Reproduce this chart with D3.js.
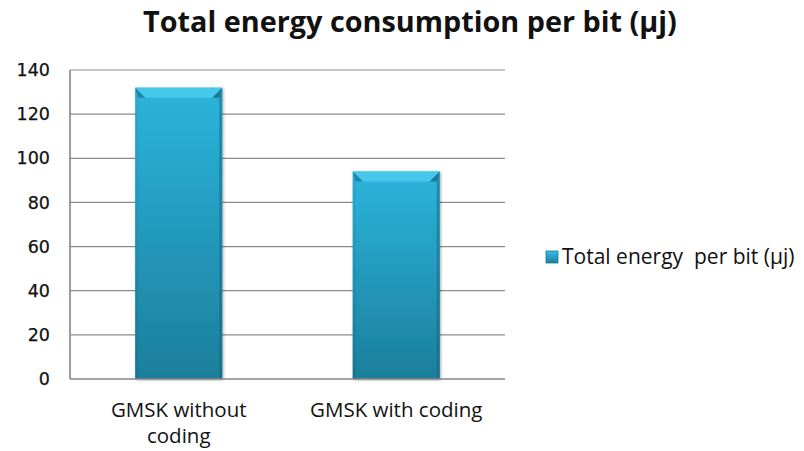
<!DOCTYPE html>
<html>
<head>
<meta charset="utf-8">
<script src="https://cdn.jsdelivr.net/npm/d3@7"></script>
<style>
  html, body { margin: 0; padding: 0; background: #fff; }
  svg { display: block; }
</style>
</head>
<body>
<svg id="chart" width="804" height="451"></svg>
<script>
// Chart data
const categories = ["GMSK without coding", "GMSK with coding"];
const categoryLines = [["GMSK without", "coding"], ["GMSK with coding"]];
const values = [132, 94];
const yTicks = [0, 20, 40, 60, 80, 100, 120, 140];
const seriesName = "Total energy  per bit (µj)";
const chartTitle = "Total energy consumption per bit (µj)";

const svg = d3.select("#chart");
const margin = { left: 70, right: 299, top: 70, bottom: 72 };
const W = 804, H = 451;

const x = d3.scaleBand()
  .domain(categories)
  .range([margin.left, W - margin.right])
  .paddingInner(0.6)
  .paddingOuter(0.3);

const y = d3.scaleLinear()
  .domain([0, 140])
  .range([H - margin.bottom, margin.top]);

// gradients for the bevelled bars
const defs = svg.append("defs");
const g1 = defs.append("linearGradient").attr("id", "barFill")
  .attr("x1", 0).attr("y1", 0).attr("x2", 0).attr("y2", 1);
g1.append("stop").attr("offset", "0%").attr("stop-color", "#2bb4dc");
g1.append("stop").attr("offset", "100%").attr("stop-color", "#1c7f9c");
const gs = defs.append("linearGradient").attr("id", "sideFill")
  .attr("x1", 0).attr("y1", 0).attr("x2", 0).attr("y2", 1);
gs.append("stop").attr("offset", "0%").attr("stop-color", "#2aa6cb");
gs.append("stop").attr("offset", "100%").attr("stop-color", "#176f8a");
const lg = defs.append("linearGradient").attr("id", "legFill")
  .attr("x1", 0).attr("y1", 0).attr("x2", 0).attr("y2", 1);
lg.append("stop").attr("offset", "0%").attr("stop-color", "#35bde3");
lg.append("stop").attr("offset", "100%").attr("stop-color", "#1c7f9c");
const shadow = defs.append("filter").attr("id", "shadow")
  .attr("x", "-20%").attr("y", "-20%").attr("width", "140%").attr("height", "140%");
shadow.append("feGaussianBlur").attr("in", "SourceAlpha").attr("stdDeviation", 1.5);
shadow.append("feOffset").attr("dx", 1).attr("dy", 1).attr("result", "b");
shadow.append("feComponentTransfer").append("feFuncA").attr("type", "linear").attr("slope", 0.35);
const mg = shadow.append("feMerge");
mg.append("feMergeNode");
mg.append("feMergeNode").attr("in", "SourceGraphic");

// gridlines
svg.append("g")
  .selectAll("line")
  .data(yTicks.filter(d => d > 0))
  .join("line")
  .attr("x1", margin.left).attr("x2", W - margin.right)
  .attr("y1", d => y(d)).attr("y2", d => y(d))
  .attr("stroke", "#8c8c8c").attr("stroke-width", 1.2);

// bars
const bev = 10;
const bars = svg.append("g").selectAll("g").data(values).join("g")
  .attr("filter", "url(#shadow)");
bars.each(function(v, i) {
  const g = d3.select(this);
  const x0 = x(categories[i]), w = x.bandwidth();
  const top = y(v), bot = y(0);
  g.append("rect").attr("x", x0).attr("y", top).attr("width", w).attr("height", bot - top)
    .attr("fill", "url(#barFill)");
  // left and right edges
  g.append("polygon")
    .attr("points", [[x0, top], [x0 + 3, top + bev], [x0 + 3, bot], [x0, bot]].join(" "))
    .attr("fill", "url(#sideFill)").attr("opacity", 0.6);
  g.append("polygon")
    .attr("points", [[x0 + w, top], [x0 + w - 3, top + bev], [x0 + w - 3, bot], [x0 + w, bot]].join(" "))
    .attr("fill", "#135f77").attr("opacity", 0.45);
  // top bevel
  g.append("polygon")
    .attr("points", [[x0, top], [x0 + w, top], [x0 + w - bev, top + bev], [x0 + bev, top + bev]].join(" "))
    .attr("fill", "#45c8ea");
  g.append("polygon")
    .attr("points", [[x0, top], [x0 + bev, top + bev], [x0 + 3, top + bev]].join(" "))
    .attr("fill", "#1b86a6");
  g.append("polygon")
    .attr("points", [[x0 + w, top], [x0 + w - bev, top + bev], [x0 + w - 3, top + bev]].join(" "))
    .attr("fill", "#1a7894");
});

// axes lines
svg.append("line")
  .attr("x1", margin.left).attr("x2", margin.left)
  .attr("y1", y(140)).attr("y2", y(0))
  .attr("stroke", "#868686").attr("stroke-width", 1.6);
svg.append("line")
  .attr("x1", margin.left).attr("x2", W - margin.right)
  .attr("y1", y(0)).attr("y2", y(0))
  .attr("stroke", "#868686").attr("stroke-width", 1.6);

// y tick labels
svg.append("g").selectAll("text").data(yTicks).join("text")
  .attr("x", margin.left - 20)
  .attr("y", d => y(d))
  .attr("dy", "0.35em")
  .attr("text-anchor", "end")
  .attr("font-family", "DejaVu Sans, Verdana, sans-serif")
  .attr("font-size", 17.5)
  .attr("fill", "#111")
  .attr("stroke", "#111").attr("stroke-width", 0.25)
  .text(d => d);

// category labels, one text element per line
const catRows = categories.flatMap((c, i) =>
  categoryLines[i].map((ln, k) => ({ c, ln, k })));
svg.append("g").selectAll("text").data(catRows).join("text")
  .attr("text-anchor", "middle")
  .attr("font-family", "Open Sans, sans-serif")
  .attr("font-size", 20.5)
  .attr("fill", "#111")
  .attr("x", d => x(d.c) + x.bandwidth() / 2)
  .attr("y", d => y(0) + 38 + d.k * 26)
  .text(d => d.ln);

// title
svg.append("text")
  .attr("x", 410).attr("y", 32)
  .attr("text-anchor", "middle")
  .attr("font-family", "Open Sans, sans-serif")
  .attr("font-weight", "bold")
  .attr("font-size", 28.8)
  .attr("fill", "#111")
  .text(chartTitle);

// legend
const leg = svg.append("g").attr("transform", "translate(546,251)");
leg.append("rect").attr("width", 12).attr("height", 12).attr("fill", "url(#legFill)")
  .attr("stroke", "#1a7894").attr("stroke-width", 0.8);
leg.append("text")
  .attr("x", 16).attr("y", 6).attr("dy", "0.35em")
  .attr("font-family", "Open Sans, sans-serif")
  .attr("font-size", 21)
  .attr("fill", "#111")
  .attr("xml:space", "preserve")
  .style("white-space", "pre")
  .text(seriesName);
</script>
</body>
</html>
